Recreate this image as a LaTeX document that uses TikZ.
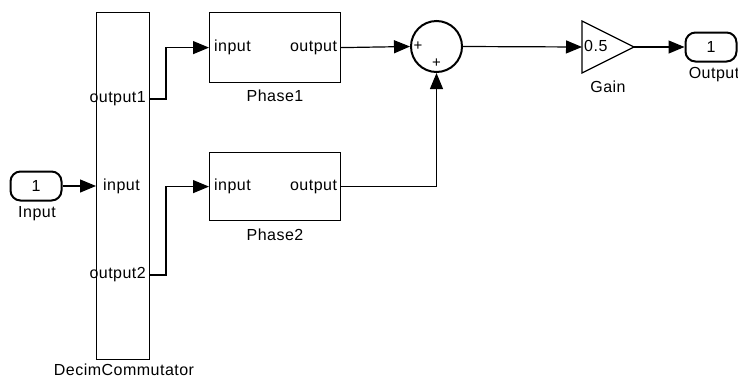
\documentclass[tikz,border=0pt]{standalone}
\usepackage{fontspec}
\setmainfont{Liberation Sans}[LetterSpace=3]
\usetikzlibrary{arrows.meta}
\begin{document}
\begin{tikzpicture}[x=1pt,y=-1pt,
  blk/.style={draw, line width=1.2pt, inner sep=0pt, anchor=north west},
  term/.style={draw, line width=2pt, rounded corners=10pt, minimum width=51pt, minimum height=29pt, inner sep=0pt, font=\fontsize{16}{16}\selectfont},
  wire/.style={line width=1.2pt, -{Triangle[length=16pt,width=13pt]}},
  lbl/.style={font=\fontsize{16}{16}\selectfont, inner sep=0pt},
  sgn/.style={font=\fontsize{15}{15}\selectfont, inner sep=0pt}]
\useasboundingbox (0,0) rectangle (738,381);
% blocks
\node[term] (in) at (36,186) {1};
\node[lbl] (inlbl) at (37,214) {Input};
\node[blk, minimum width=53pt, minimum height=347pt] (comm) at (96,12) {};
\node[lbl] (commlbl) at (124,370) {DecimCommutator};
\coordinate (c1) at (149,99);
\coordinate (c2) at (149,275);
\coordinate (cin) at (96,186);
\node[lbl, anchor=east] (o1lbl) at (146,99) {output1};
\node[lbl, anchor=west] (inplbl) at (103,186) {input};
\node[lbl, anchor=east] (o2lbl) at (146,275) {output2};
\node[blk, minimum width=131pt, minimum height=70pt] (p1) at (209,12) {};
\node[blk, minimum width=131pt, minimum height=68pt] (p2) at (209,152) {};
\node[lbl, anchor=west] (p1in) at ([xshift=5pt]p1.west) {input};
\node[lbl, anchor=east] (p1out) at ([xshift=-4pt]p1.east) {output};
\node[lbl, anchor=west] (p2in) at ([xshift=5pt]p2.west) {input};
\node[lbl, anchor=east] (p2out) at ([xshift=-4pt]p2.east) {output};
\node[lbl] (p1lbl) at (275,96) {Phase1};
\node[lbl] (p2lbl) at (275,235) {Phase2};
\node[draw, circle, line width=2pt, minimum size=51pt, inner sep=0pt] (sum) at (436.5,46.5) {};
\node[sgn] (plus1) at (418,46) {+};
\node[sgn] (plus2) at (436.5,63) {+};
\draw[line width=1.2pt, line join=miter] (582,21) -- (634,47) -- (582,73) -- cycle;
\coordinate (gin) at (582,47);
\coordinate (gout) at (634,47);
\node[lbl, anchor=west] (gain) at (584,46) {0.5};
\node[lbl] (gainlbl) at (608,87) {Gain};
\node[term] (out) at (711,47) {1};
\node[lbl] (outlbl) at (714,75) {Output};
% connectors
\draw[wire] (in.east) -- (cin);
\draw[wire] (c1) -- ++(17,0) |- (p1.west);
\draw[wire] (c2) -- ++(17,0) |- (p2.west);
\draw[wire] (p1.east) -- (sum.west);
\draw[wire] (p2.east) -| (sum.south);
\draw[wire] (sum.east) -- (gin);
\draw[wire] (gout) -- (out.west);
\end{tikzpicture}
\end{document}
